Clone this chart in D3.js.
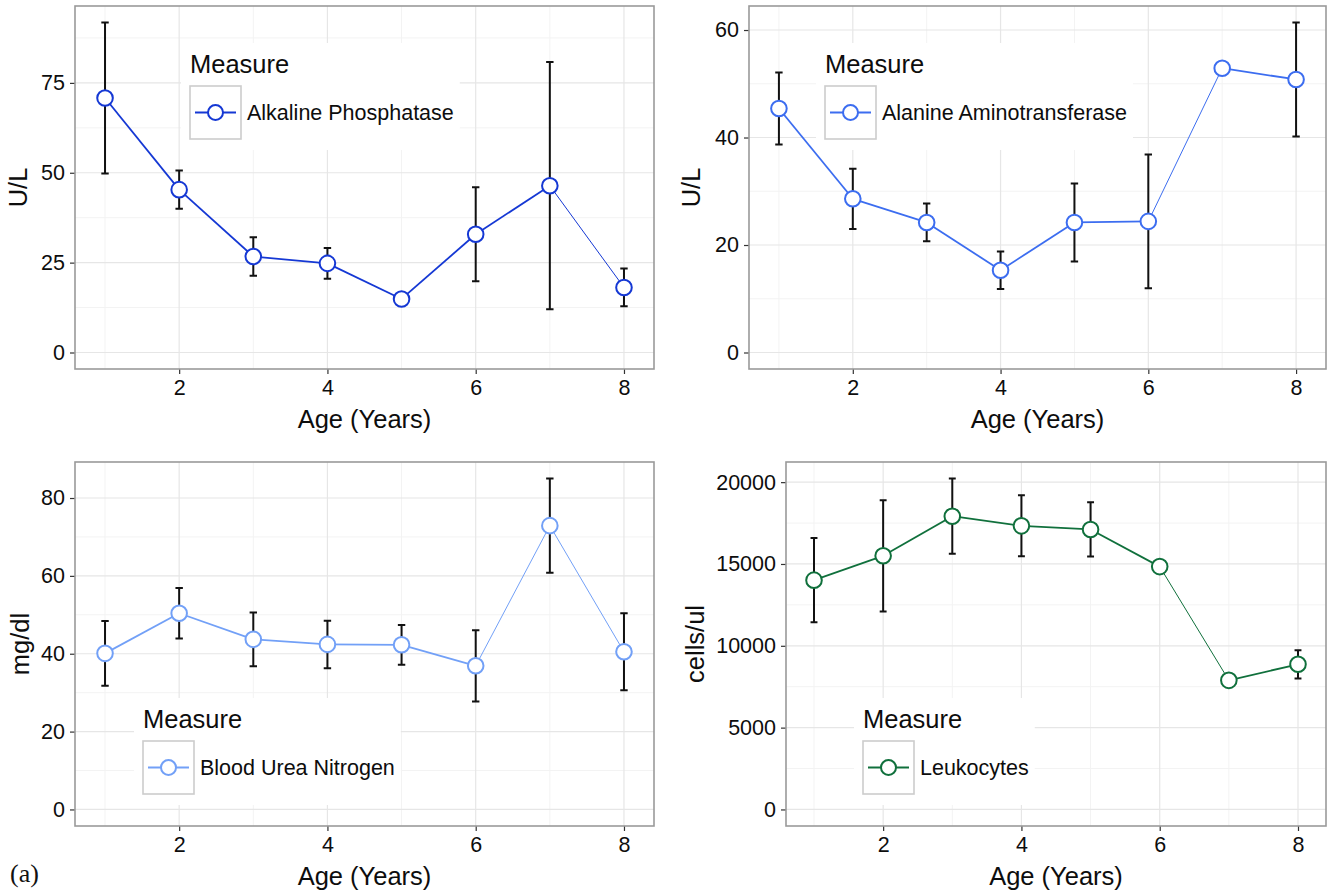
<!DOCTYPE html>
<html>
<head>
<meta charset="utf-8">
<script src="https://cdn.jsdelivr.net/npm/d3@7"></script>
<style>
  body { margin: 0; background: #fff; }
  svg { display: block; }
  text { font-family: "Liberation Sans", Arial, Helvetica, sans-serif; }
</style>
</head>
<body>
<svg id="chart" width="1328" height="896"></svg>
<script>
// Age groups (years)
const ages = [1, 2, 3, 4, 5, 6, 7, 8];
const xTicks = [2, 4, 6, 8];

// Measures, units and per-age mean / standard deviation (null = no spread)
const measures = ["Alkaline Phosphatase", "Alanine Aminotransferase", "Blood Urea Nitrogen", "Leukocytes"];
const units = ["U/L", "U/L", "mg/dl", "cells/ul"];

const alpMean = [70.8, 45.3, 26.7, 24.8, 14.9, 32.9, 46.4, 18.1];
const alpSd   = [21.0, 5.3, 5.35, 4.3, null, 13.05, 34.4, 5.25];

const altMean = [45.4, 28.6, 24.2, 15.3, 24.2, 24.4, 52.9, 50.8];
const altSd   = [6.7, 5.6, 3.5, 3.5, 7.25, 12.45, null, 10.6];

const bunMean = [40.1, 50.4, 43.7, 42.4, 42.3, 36.9, 72.9, 40.5];
const bunSd   = [8.3, 6.5, 6.9, 6.1, 5.1, 9.15, 12.1, 9.9];

const wbcMean = [14010, 15500, 17920, 17330, 17110, 14840, 7890, 8870];
const wbcSd   = [2570, 3400, 2300, 1865, 1660, null, null, 865];

const yTicksAlp = [0, 25, 50, 75];
const yTicksAlt = [0, 20, 40, 60];
const yTicksBun = [0, 20, 40, 60, 80];
const yTicksWbc = [0, 5000, 10000, 15000, 20000];

const means = [alpMean, altMean, bunMean, wbcMean];
const sds = [alpSd, altSd, bunSd, wbcSd];
const yTicks = [yTicksAlp, yTicksAlt, yTicksBun, yTicksWbc];

// Panel geometry and styling
const panels = [
  { left: 75,  top: 6,   right: 654,  bottom: 369, yTitleX: 18,  color: "#1538d4", legend: { x: 190, y: 43 },  thin: [6] },
  { left: 749, top: 6,   right: 1326, bottom: 369, yTitleX: 691, color: "#3c6df0", legend: { x: 825, y: 43 },  thin: [5] },
  { left: 75,  top: 462, right: 654,  bottom: 826, yTitleX: 20,  color: "#72a0f7", legend: { x: 143, y: 698 }, thin: [5, 6] },
  { left: 786, top: 462, right: 1326, bottom: 826, yTitleX: 695, color: "#10703c", legend: { x: 863, y: 698 }, thin: [5] }
];

const errW = 0.1;          // error bar cap width in x units
const ptR = 7.8;           // point radius
const svg = d3.select("#chart");

panels.forEach((p, k) => {
  const mean = means[k], sd = sds[k];
  const g = svg.append("g");

  // x scale with 5% expansion around points + caps
  const x0 = d3.min(ages) - errW / 2, x1 = d3.max(ages) + errW / 2;
  const xp = (x1 - x0) * 0.05;
  const x = d3.scaleLinear().domain([x0 - xp, x1 + xp]).range([p.left, p.right]);

  const his = mean.map((m, i) => sd[i] == null ? m : m + sd[i]);
  const los = mean.map((m, i) => sd[i] == null ? m : m - sd[i]);
  const lo = Math.min(0, d3.min(los)), hi = d3.max(his);
  const yp = (hi - lo) * 0.05;
  const y = d3.scaleLinear().domain([lo - yp, hi + yp]).range([p.bottom, p.top]);

  // minor grid
  const yt = yTicks[k];
  const step = yt[1] - yt[0];
  const yMinor = [];
  for (let v = yt[0] - step / 2; v <= y.domain()[1]; v += step) if (v >= y.domain()[0]) yMinor.push(v);
  const xMinor = [1, 3, 5, 7];

  g.append("g").selectAll("line").data(yMinor).join("line")
    .attr("x1", p.left).attr("x2", p.right)
    .attr("y1", d => y(d)).attr("y2", d => y(d))
    .attr("stroke", "#f3f3f3").attr("stroke-width", 1);
  g.append("g").selectAll("line").data(xMinor).join("line")
    .attr("y1", p.top).attr("y2", p.bottom)
    .attr("x1", d => x(d)).attr("x2", d => x(d))
    .attr("stroke", "#f3f3f3").attr("stroke-width", 1);

  // major grid
  g.append("g").selectAll("line").data(yt).join("line")
    .attr("x1", p.left).attr("x2", p.right)
    .attr("y1", d => y(d)).attr("y2", d => y(d))
    .attr("stroke", "#e6e6e6").attr("stroke-width", 1.2);
  g.append("g").selectAll("line").data(xTicks).join("line")
    .attr("y1", p.top).attr("y2", p.bottom)
    .attr("x1", d => x(d)).attr("x2", d => x(d))
    .attr("stroke", "#e6e6e6").attr("stroke-width", 1.2);

  // axes
  const xAxis = g.append("g").attr("transform", `translate(0,${p.bottom})`)
    .call(d3.axisBottom(x).tickValues(xTicks).tickSize(5).tickPadding(6).tickFormat(d3.format("d")));
  const yAxis = g.append("g").attr("transform", `translate(${p.left},0)`)
    .call(d3.axisLeft(y).tickValues(yt).tickSize(5).tickPadding(5).tickFormat(d3.format("d")));
  [xAxis, yAxis].forEach(a => {
    a.select(".domain").remove();
    a.selectAll(".tick line").attr("stroke", "#333").attr("stroke-width", 1.2);
    a.selectAll(".tick text").attr("fill", "#0d0d0d").style("font-size", "21.5px")
      .style("font-family", '"Liberation Sans", Arial, sans-serif');
  });

  // panel border
  g.append("rect").attr("x", p.left).attr("y", p.top)
    .attr("width", p.right - p.left).attr("height", p.bottom - p.top)
    .attr("fill", "none").attr("stroke", "#9a9a9a").attr("stroke-width", 1.6);

  // axis titles
  g.append("text").attr("x", (p.left + p.right) / 2).attr("y", p.bottom + 59)
    .attr("text-anchor", "middle").style("font-size", "25.5px").attr("fill", "#0d0d0d")
    .text("Age (Years)");
  g.append("text")
    .attr("transform", `translate(${p.yTitleX},${(p.top + p.bottom) / 2}) rotate(-90)`)
    .attr("text-anchor", "middle").attr("dy", "0.36em")
    .style("font-size", "25.5px").attr("fill", "#0d0d0d")
    .text(units[k]);

  // legend
  const L = p.legend;
  const lg = g.append("g");
  const bg = lg.append("rect").attr("fill", "#fff");
  lg.append("text").attr("x", L.x).attr("y", L.y + 30)
    .style("font-size", "25.5px").attr("fill", "#0d0d0d").text("Measure");
  lg.append("rect").attr("x", L.x).attr("y", L.y + 43).attr("width", 51).attr("height", 53)
    .attr("fill", "#fff").attr("stroke", "#cccccc").attr("stroke-width", 1.6);
  const ky = L.y + 43 + 26.5;
  lg.append("line").attr("x1", L.x + 5).attr("x2", L.x + 46).attr("y1", ky).attr("y2", ky)
    .attr("stroke", p.color).attr("stroke-width", 1.8);
  lg.append("circle").attr("cx", L.x + 25.5).attr("cy", ky).attr("r", 7.5)
    .attr("fill", "#fff").attr("stroke", p.color).attr("stroke-width", 2);
  const lab = lg.append("text").attr("x", L.x + 57).attr("y", ky + 7.5)
    .style("font-size", "21.5px").attr("fill", "#0d0d0d").text(measures[k]);
  const lw = lab.node().getComputedTextLength();
  bg.attr("x", L.x - 9).attr("y", L.y).attr("width", 57 + lw + 15).attr("height", 107);

  // error bars
  const eb = ages.map((a, i) => ({ a, m: mean[i], s: sd[i] })).filter(d => d.s != null);
  const cap = x(errW / 2) - x(0);
  const ebg = g.append("g").attr("stroke", "#111").attr("stroke-width", 2).attr("fill", "none");
  ebg.selectAll("path").data(eb).join("path")
    .attr("d", d => {
      const cx = x(d.a), t = y(d.m + d.s), b = y(d.m - d.s);
      return `M${cx - cap},${t}H${cx + cap}M${cx},${t}V${b}M${cx - cap},${b}H${cx + cap}`;
    });

  // connecting line, drawn segment by segment
  const line = d3.line().x(d => x(d[0])).y(d => y(d[1]));
  const segs = d3.pairs(ages.map((a, i) => [a, mean[i]]));
  g.append("g").selectAll("path").data(segs).join("path")
    .attr("d", d => line(d)).attr("fill", "none")
    .attr("stroke", p.color)
    .attr("stroke-width", (d, i) => p.thin.includes(i) ? 1.0 : 1.8);

  // points
  g.append("g").selectAll("circle").data(ages).join("circle")
    .attr("cx", d => x(d)).attr("cy", (d, i) => y(mean[i])).attr("r", ptR)
    .attr("fill", "#fff").attr("stroke", p.color).attr("stroke-width", 2);
});

// figure label
svg.append("text").attr("x", 10).attr("y", 882)
  .style("font-family", '"Liberation Serif", "Times New Roman", serif')
  .style("font-size", "26px").attr("fill", "#111").text("(a)");
</script>
</body>
</html>
